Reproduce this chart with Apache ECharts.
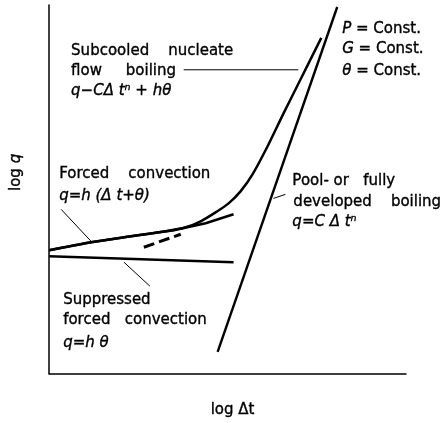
<!DOCTYPE html>
<html>
<head>
<meta charset="utf-8">
<script src="https://cdn.jsdelivr.net/npm/echarts@6/dist/echarts.min.js"></script>
<style>
  html, body { margin: 0; padding: 0; background: #fff; }
  #chart { width: 440px; height: 423px; }
</style>
</head>
<body>
<div id="chart"></div>
<script>
// 坐标为任意对数单位：x = log Δt, y = log q
const subcooledCurve = [[0,124],[42,132],[82,138],[117,143],[137,147],[152,153],[167,162],[180,171],[192,183],[204,200],[219,228],[235,261],[252,295],[273,337]];
const forcedLine = [[0,124],[42,132],[82,138],[125,144],[157,151],[185,160]];
const dashedPart = [[95,127],[132,140]];
const suppressedLine = [[0,118],[185,112]];
const poolLine = [[169,22],[289,368]];

// 引出线
const leaderLines = [
    [[12,165],[42,133]],
    [[75,112],[101,88]],
    [[135,305],[250,305]],
    [[225,176],[237,180]]
];

// 文字标注 [x, y, 文本]
const textLabels = [
    [22, 324, 'Subcooled    nucleate'],
    [22, 304, 'flow     boiling'],
    [22, 284, '{i|q−CΔ tⁿ + hθ}'],
    [294, 346, '{i|P} = Const.'],
    [294, 326, '{i|G} = Const.'],
    [294, 304, '{i|θ} = Const.'],
    [10, 200.5, 'Forced    convection'],
    [10, 178, '{i|q=h (Δ t+θ)}'],
    [244, 193, 'Pool- or   fully'],
    [245, 172.5, 'developed    boiling'],
    [244, 152.5, '{i|q=C Δ tⁿ}'],
    [14, 73.5, 'Suppressed'],
    [14, 54, 'forced   convection'],
    [14, 31, '{i|q=h θ}']
];

const xName = 'log Δt';
const yName = 'log {i|q}';

const chart = echarts.init(document.getElementById('chart'));
const font = 'DejaVu Sans';
const ink = '#000';

const textBase = {
    fontFamily: font, fontSize: 15, color: ink,
    textBorderColor: ink, textBorderWidth: 0.35, opacity: 1
};
const richStyle = {
    i: Object.assign({ fontStyle: 'italic' }, textBase)
};

function lineSeries(data, width, type) {
    return {
        type: 'line',
        data: data,
        symbol: 'none',
        silent: true,
        lineStyle: { color: ink, width: width, type: type || 'solid' }
    };
}

const series = [
    Object.assign(lineSeries(subcooledCurve, 2.5), { smooth: 0.3 }),
    lineSeries(forcedLine, 2.6),
    lineSeries(dashedPart, 3, [11, 5]),
    lineSeries(suppressedLine, 2.5),
    lineSeries(poolLine, 2.4)
];
leaderLines.forEach(l => series.push(lineSeries(l, 1)));

series.push({
    type: 'scatter',
    symbolSize: 0,
    silent: true,
    itemStyle: { color: ink },
    data: textLabels.map(t => ({ value: [t[0], t[1]], text: t[2] })),
    label: Object.assign({
        show: true,
        position: 'right',
        distance: 0,
        formatter: p => p.data.text,
        rich: richStyle
    }, textBase)
});

const axisCommon = {
    type: 'value',
    axisLine: { show: true, lineStyle: { color: ink, width: 1.5 } },
    axisTick: { show: false },
    axisLabel: { show: false },
    splitLine: { show: false },
    nameLocation: 'middle'
};

chart.setOption({
    animation: false,
    backgroundColor: '#fff',
    grid: { left: 48, right: 34, top: 5, bottom: 48 },
    xAxis: Object.assign({}, axisCommon, {
        min: 0, max: 358,
        name: xName,
        nameGap: 29,
        nameTextStyle: Object.assign({ padding: [0, 0, 0, 10], rich: richStyle }, textBase)
    }),
    yAxis: Object.assign({}, axisCommon, {
        min: 0, max: 370,
        name: yName,
        nameRotate: 90,
        nameGap: 26,
        nameTextStyle: Object.assign({ padding: [0, 0, 0, 34], rich: richStyle }, textBase)
    }),
    series: series
});
</script>
</body>
</html>
